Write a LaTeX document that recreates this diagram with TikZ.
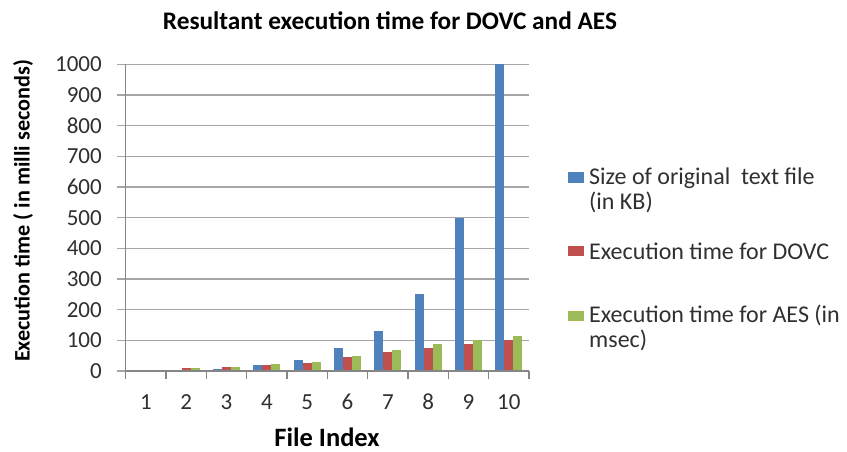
\documentclass[tikz,border=0pt]{standalone}
\usepackage{fontspec}
\setmainfont{Carlito}
\definecolor{sblue}{HTML}{4F81BD}
\definecolor{sred}{HTML}{C0504D}
\definecolor{sgreen}{HTML}{9BBB59}
\definecolor{gridc}{HTML}{A6A6A6}
\definecolor{axisc}{HTML}{868686}
\definecolor{txt}{HTML}{303030}
\begin{document}
\begin{tikzpicture}[x=1pt,y=-1pt,
  ticklab/.style={inner sep=0pt,text=txt,font=\fontsize{23}{23}\selectfont},
  legtext/.style={inner sep=0pt,anchor=west,text=txt,align=left,font=\fontsize{24}{25}\selectfont},
  gridline/.style={draw=gridc,line width=1.3pt},
  axisline/.style={draw=axisc,line width=1.3pt}]
\useasboundingbox (0,0) rectangle (847,452);
\fill[white] (0,0) rectangle (847,452);
% title
\node[inner sep=0pt,font=\bfseries\fontsize{25.3}{25}\selectfont] (title) at (390,21) {Resultant execution time for DOVC and AES};
% gridlines and y labels
\foreach \v in {0,100,...,1000} {
  \draw[gridline] (116.7,{371-\v*0.3067}) -- (529,{371-\v*0.3067});
  \node[ticklab,anchor=east] at (102,{371-\v*0.3067}) {\v};
}
% bars
\foreach \i/\b/\r/\g in {1/0/0/0,2/3/10/10,3/8/14/14,4/20/20/22,5/37/27/30,6/76/45/49,7/132/62/67,8/250/76/87,9/500/87/100,10/1000/100/113} {
  \pgfmathsetmacro{\xl}{125.7+(\i-1)*40.33+6.72}
  \fill[sblue] (\xl,371) rectangle ({\xl+8.96},{371-\b*0.3067});
  \fill[sred] ({\xl+8.96},371) rectangle ({\xl+17.92},{371-\r*0.3067});
  \fill[sgreen] ({\xl+17.92},371) rectangle ({\xl+26.88},{371-\g*0.3067});
  \node[ticklab] at ({125.7+(\i-0.5)*40.33},402) {\i};
}
% axes
\draw[axisline] (125.7,64.3) -- (125.7,379);
\draw[axisline] (125.7,371) -- (529,371);
\foreach \i in {1,...,10} {
  \draw[axisline] ({125.7+\i*40.33},371) -- ({125.7+\i*40.33},379);
}
% axis titles
\node[inner sep=0pt,font=\bfseries\fontsize{26.5}{26}\selectfont] (xlab) at (327,437) {File Index};
\node[inner sep=0pt,rotate=90,font=\bfseries\fontsize{22.2}{22}\selectfont] (ylab) at (23,211) {Execution time ( in milli seconds)};
% legend
\fill[sblue] (568,172) rectangle (584,183);
\fill[sred] (568,246) rectangle (584,256);
\fill[sgreen] (568,311) rectangle (584,321);
\node[legtext] (l1) at (589,190) {Size of original\ \ text file\\(in KB)};
\node[legtext] (l2) at (589,251) {Execution time for DOVC};
\node[legtext] (l3) at (589,328) {Execution time for AES (in\\msec)};
\end{tikzpicture}
\end{document}
